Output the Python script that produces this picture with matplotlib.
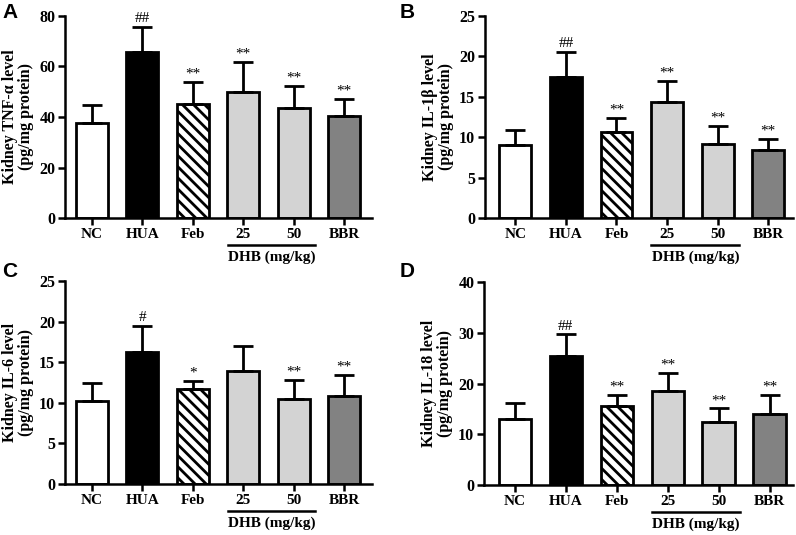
import matplotlib
matplotlib.use("Agg")
import matplotlib.pyplot as plt
import numpy as np

# groups shown on every panel
groups = ["NC", "HUA", "Feb", "25", "50", "BBR"]

# panel A: TNF-alpha
tnf_mean = [37.8, 65.6, 45.1, 49.8, 43.4, 40.2]
tnf_err = [7.0, 10.2, 8.7, 12.0, 8.9, 7.1]
tnf_sig = ["", "##", "**", "**", "**", "**"]

# panel B: IL-1beta
il1b_mean = [9.0, 17.5, 10.6, 14.4, 9.1, 8.4]
il1b_err = [1.9, 3.1, 1.8, 2.6, 2.3, 1.4]
il1b_sig = ["", "##", "**", "**", "**", "**"]

# panel C: IL-6
il6_mean = [10.2, 16.3, 11.7, 13.9, 10.5, 10.8]
il6_err = [2.2, 3.2, 1.0, 3.1, 2.3, 2.6]
il6_sig = ["", "#", "*", "", "**", "**"]

# panel D: IL-18
il18_mean = [13.0, 25.5, 15.5, 18.5, 12.4, 13.9]
il18_err = [3.1, 4.2, 2.3, 3.6, 2.7, 3.9]
il18_sig = ["", "##", "**", "**", "**", "**"]

W, H = 796, 535
SERIF = "Liberation Serif"
colors = ["white", "black", "white", "#d3d3d3", "#d3d3d3", "#828282"]
hatches = [None, None, "\\\\\\", None, None, None]

plt.rcParams["hatch.linewidth"] = 2.0
plt.rcParams["font.family"] = SERIF
plt.rcParams["font.weight"] = "bold"

fig = plt.figure(figsize=(W / 100, H / 100), dpi=100)


def px_axes(left, right, top, bottom):
    return fig.add_axes([left / W, (H - bottom) / H, (right - left) / W, (bottom - top) / H])


def panel(ax, means, errs, sigs, ymax, ystep, ylabel, xlim):
    x = np.arange(len(groups))
    for i in range(len(groups)):
        ax.bar(x[i], means[i], width=0.63, color=colors[i], edgecolor="black",
               linewidth=2, hatch=hatches[i], zorder=2)
    ax.errorbar(x, means, yerr=[np.zeros(len(means)), errs], fmt="none",
                ecolor="black", elinewidth=2, capsize=7, capthick=2, zorder=3)
    for i, s in enumerate(sigs):
        if s:
            ax.text(x[i], means[i] + errs[i] + ymax * 0.006, s, ha="center", va="bottom",
                    fontsize=11, fontweight="normal")
    ax.set_xlim(*xlim)
    ax.set_ylim(0, ymax)
    ax.set_yticks(np.arange(0, ymax + 0.1, ystep))
    ax.set_xticks(x)
    ax.set_xticklabels(groups, fontsize=11, fontweight="bold")
    for t in ax.get_yticklabels():
        t.set_fontsize(11.5)
        t.set_fontweight("bold")
    ax.spines["top"].set_visible(False)
    ax.spines["right"].set_visible(False)
    ax.spines["left"].set_linewidth(1.8)
    ax.spines["bottom"].set_linewidth(1.8)
    ax.tick_params(axis="both", width=1.8, length=5, direction="out", pad=2)
    ax.set_ylabel(ylabel + "\n(pg/mg protein)", fontsize=11.5, fontweight="bold",
                  linespacing=1.0, labelpad=4)
    # DHB dose bracket below 25 and 50
    tr = ax.get_xaxis_transform()
    ax.plot([2.69, 4.43], [-0.135, -0.135], color="black", lw=1.8,
            transform=tr, clip_on=False)
    ax.text(3.56, -0.16, "DHB (mg/kg)", transform=tr, ha="center", va="top",
            fontsize=11, fontweight="bold")


axA = px_axes(65, 372, 16, 218)
panel(axA, tnf_mean, tnf_err, tnf_sig, 80, 20, "Kidney TNF-α level", (-0.53, 5.55))
axB = px_axes(485, 793, 16, 218)
panel(axB, il1b_mean, il1b_err, il1b_sig, 25, 5, "Kidney IL-1β level", (-0.6, 5.49))
axC = px_axes(65, 372, 281, 484)
panel(axC, il6_mean, il6_err, il6_sig, 25, 5, "Kidney IL-6 level", (-0.53, 5.55))
axD = px_axes(484, 793, 282, 485)
panel(axD, il18_mean, il18_err, il18_sig, 40, 10, "Kidney IL-18 level", (-0.6, 5.46))

# panel letters
for lab, xp, yp in [("A", 2, 3), ("B", 400, 3), ("C", 2, 262), ("D", 400, 262)]:
    fig.text(xp / W, 1 - yp / H, lab, ha="left", va="top", fontsize=15,
             fontweight="bold", family="Liberation Sans")

fig.savefig("out.png", dpi=100)
